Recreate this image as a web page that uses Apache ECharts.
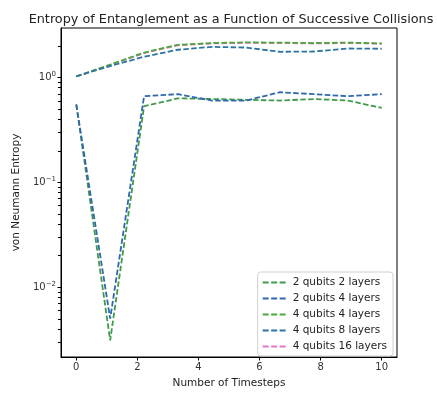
<!DOCTYPE html>
<html>
<head>
<meta charset="utf-8">
<script src="https://cdn.jsdelivr.net/npm/echarts@6/dist/echarts.min.js"></script>
<style>html,body{margin:0;padding:0;background:#fff}#c{width:437px;height:394px}</style>
</head>
<body>
<div id="c"></div>
<script>
const timesteps = [0, 1.11, 2.22, 3.33, 4.44, 5.56, 6.67, 7.78, 8.89, 10];
const seriesNames = ['2 qubits 2 layers', '2 qubits 4 layers', '4 qubits 4 layers', '4 qubits 8 layers', '4 qubits 16 layers'];
const q2l2 = [0.55, 0.0031, 0.53, 0.63, 0.62, 0.61, 0.60, 0.62, 0.60, 0.51];
const q2l4 = [0.55, 0.0050, 0.66, 0.69, 0.60, 0.60, 0.72, 0.69, 0.66, 0.69];
const q4l4 = [1.02, 1.32, 1.72, 2.04, 2.12, 2.15, 2.14, 2.12, 2.14, 2.10];
const q4l8 = [1.02, 1.28, 1.57, 1.83, 1.95, 1.92, 1.75, 1.76, 1.88, 1.87];
const q4l16 = [1.02, 1.31, 1.70, 2.02, 2.10, 2.13, 2.12, 2.10, 2.12, 2.09];
const xTicks = [0, 2, 4, 6, 8, 10];
const yMajor = [0.01, 0.1, 1];
const yMinor = [0.003,0.004,0.005,0.006,0.007,0.008,0.009,0.02,0.03,0.04,0.05,0.06,0.07,0.08,0.09,0.2,0.3,0.4,0.5,0.6,0.7,0.8,0.9,2];
const colors = ['#3f9a4a', '#2f68b0', '#4aa83a', '#2d74a4', '#e377c2'];
const allData = [q2l2, q2l4, q4l4, q4l8, q4l16];
const zOrder = [3, 4, 5, 6, 2];
const X_MIN = -0.5, X_MAX = 10.5, Y_MIN = 0.00215, Y_MAX = 2.95;

const font = 'DejaVu Sans';
const chart = echarts.init(document.getElementById('c'));
const dashIcon = 'path://M0,0h6v2h-6z M8.5,0h6v2h-6z M17,0h6v2h-6z';

const lineSeries = seriesNames.map((n, i) => ({
  name: n, type: 'line', symbol: 'none', z: zOrder[i],
  data: timesteps.map((t, j) => [t, allData[i][j]]),
  lineStyle: {color: colors[i], width: 1.8, type: [5.5, 2.4]},
  itemStyle: {color: colors[i]}
}));

const minorTickSeries = {
  type: 'custom', name: 'minorTicks', silent: true, clip: false, z: 10,
  data: yMinor.map(v => [X_MIN, v]),
  renderItem: (params, api) => {
    const p = api.coord([api.value(0), api.value(1)]);
    const y = Math.round(p[1]) + 0.5;
    return {type: 'line', shape: {x1: p[0] - 3, y1: y, x2: p[0], y2: y}, style: {stroke: '#000', lineWidth: 1}};
  }
};

const option = {
  animation: false,
  title: {
    text: 'Entropy of Entanglement as a Function of Successive Collisions',
    left: 226, top: 8, textAlign: 'center',
    textStyle: {fontFamily: font, fontSize: 12.8, fontWeight: 'normal', color: '#222'}
  },
  grid: {left: 61, right: 40, top: 28, bottom: 32, show: true, borderColor: '#000', borderWidth: 1, backgroundColor: 'transparent'},
  legend: {
    right: 44, bottom: 38, orient: 'vertical',
    data: seriesNames.map((n, i) => ({name: n, icon: dashIcon, itemStyle: {color: colors[i]}})),
    itemWidth: 23, itemHeight: 2, itemGap: 5,
    backgroundColor: 'rgba(255,255,255,0.8)', borderColor: '#d0d0d0', borderWidth: 1, borderRadius: 3,
    padding: [5, 6, 4, 5],
    textStyle: {fontFamily: font, fontSize: 10.5, color: '#222', padding: [0, 0, 0, 2]}
  },
  xAxis: {
    type: 'value', min: X_MIN, max: X_MAX,
    name: 'Number of Timesteps', nameLocation: 'middle', nameGap: 21,
    nameTextStyle: {fontFamily: font, fontSize: 10.5, color: '#222'},
    axisLine: {show: true, onZero: false, lineStyle: {color: '#000'}},
    axisTick: {show: true, length: 3.5, lineStyle: {color: '#000'}, customValues: xTicks},
    axisLabel: {fontFamily: font, fontSize: 10, color: '#333', margin: 5, customValues: xTicks},
    splitLine: {show: false}
  },
  yAxis: {
    type: 'log', logBase: 10, min: Y_MIN, max: Y_MAX,
    name: 'von Neumann Entropy', nameLocation: 'middle', nameGap: 36,
    nameTextStyle: {fontFamily: font, fontSize: 10.5, color: '#222'},
    axisLine: {show: true, onZero: false, lineStyle: {color: '#000'}},
    axisTick: {show: true, length: 3.5, lineStyle: {color: '#000'}, customValues: yMajor},
    axisLabel: {
      customValues: yMajor, margin: 5,
      formatter: v => {
        const e = Math.round(Math.log10(v));
        return '{b|10}{s|' + (e < 0 ? '\u2212' + (-e) : e) + '}';
      },
      rich: {
        b: {fontFamily: font, fontSize: 10, color: '#333'},
        s: {fontFamily: font, fontSize: 7, color: '#333', verticalAlign: 'top', padding: [0, 0, 6, 0]}
      }
    },
    splitLine: {show: false}
  },
  series: lineSeries.concat([minorTickSeries])
};
chart.setOption(option);
</script>
</body>
</html>
